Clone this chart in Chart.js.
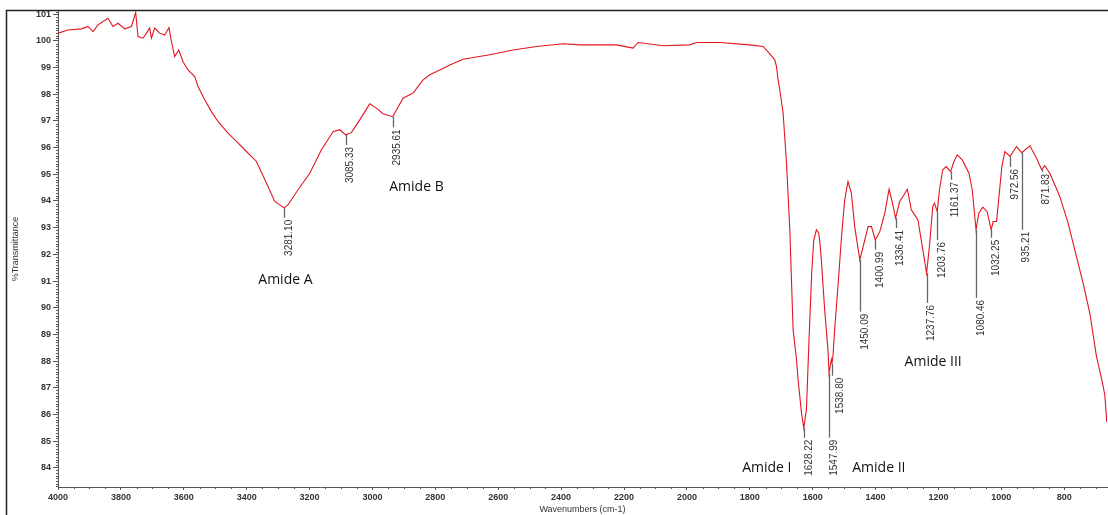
<!DOCTYPE html>
<html>
<head>
<meta charset="utf-8">
<script src="https://cdn.jsdelivr.net/npm/chart.js@4/dist/chart.umd.min.js"></script>
<style>
  body { margin: 0; background: #fff; }
  canvas { display: block; }
</style>
</head>
<body>
<canvas id="ftirChart" width="1108" height="515"></canvas>
<script>
// spectrum (wavenumber, %T)
const wavenumbers = [
    4000, 3968.2, 3925.6, 3904.6, 3888.7, 3872.8, 3841, 3825.1, 3809.2, 3787.8,
    3766.5, 3752.9, 3745.6, 3729.6, 3708.3, 3702.9, 3692.4, 3676.5, 3660.6, 3647,
    3639.3, 3628.8, 3616.1, 3602.4, 3586.5, 3565.2, 3554.7, 3533.4, 3512.1, 3491.1,
    3459.3, 3432.6, 3406.2, 3369, 3337.2, 3310.8, 3281.1, 3268.4, 3236.6, 3199.4,
    3162.2, 3125.3, 3104, 3085.33, 3066.8, 3040.4, 3008.6, 2987.3, 2966.3, 2935.61,
    2923.7, 2902.7, 2881.4, 2870.9, 2839.1, 2817.8, 2785.9, 2754.1, 2711.8, 2626.9,
    2552.8, 2478.4, 2393.8, 2340.6, 2277, 2223.9, 2171.1, 2155.2, 2075.7, 1990.8,
    1969.5, 1895.4, 1800, 1757.7, 1736.4, 1720.5, 1715.1, 1709.9, 1704.5, 1694,
    1683.2, 1672.7, 1662.2, 1651.4, 1646.3, 1635.5, 1628.22, 1619.8, 1611, 1603.1,
    1596.8, 1588.3, 1581, 1577.8, 1572.4, 1561.9, 1551.4, 1547.99, 1540.6, 1538.8,
    1535.4, 1530, 1519.5, 1508.7, 1498.2, 1487.7, 1476.9, 1466.4, 1450.09, 1439.6,
    1423.7, 1412.9, 1400.99, 1386.6, 1370.7, 1357, 1346.2, 1336.41, 1323.5, 1313,
    1299, 1286.3, 1275.8, 1265.3, 1251.3, 1237.76, 1228.7, 1218.2, 1212.8, 1203.76,
    1196.8, 1186.3, 1175.5, 1161.37, 1150.7, 1140.2, 1124.3, 1103, 1092.5, 1080.46,
    1071.7, 1059, 1045.3, 1032.25, 1026.1, 1015.3, 1004.8, 998.3, 988.8, 972.56,
    951.7, 935.21, 909.3, 888, 871.83, 861.8, 845.9, 814.1, 787.7, 771.8,
    740, 718.7, 697.4, 680.6, 671, 664.7
];
const transmittance = [
    100.29, 100.41, 100.45, 100.54, 100.35, 100.6, 100.85, 100.54, 100.66, 100.45,
    100.54, 101.07, 100.16, 100.1, 100.48, 100.1, 100.48, 100.29, 100.22, 100.5,
    99.97, 99.41, 99.66, 99.22, 98.91, 98.66, 98.29, 97.79, 97.35, 96.98,
    96.54, 96.23, 95.92, 95.48, 94.67, 93.98, 93.74, 93.86, 94.42, 95.04,
    95.92, 96.6, 96.67, 96.48, 96.56, 97.04, 97.64, 97.48, 97.27, 97.16,
    97.41, 97.85, 97.98, 98.04, 98.54, 98.73, 98.91, 99.1, 99.31, 99.48,
    99.66, 99.79, 99.89, 99.85, 99.85, 99.85, 99.73, 99.94, 99.82, 99.85,
    99.94, 99.94, 99.85, 99.79, 99.51, 99.29, 99.04, 98.54, 98.16, 97.29,
    95.42, 92.92, 89.17, 88.05, 87.3, 86.05, 85.49, 86.2, 89.0, 91.3,
    92.5, 92.92, 92.8, 92.54, 91.8, 89.92, 88.42, 87.55, 88.05, 87.9,
    88.2, 89.2, 90.8, 92.6, 94.04, 94.73, 94.29, 93.04, 91.79, 92.29,
    93.04, 93.04, 92.54, 92.85, 93.54, 94.44, 93.92, 93.36, 93.98, 94.17,
    94.44, 93.67, 93.48, 93.29, 92.29, 91.3, 92.29, 93.79, 93.92, 93.6,
    94.42, 95.17, 95.29, 95.1, 95.48, 95.73, 95.54, 95.04, 94.42, 92.92,
    93.54, 93.77, 93.6, 92.92, 93.23, 93.23, 94.5, 95.3, 95.85, 95.67,
    96.04, 95.81, 96.07, 95.6, 95.17, 95.32, 95.04, 94.17, 93.17, 92.42,
    90.92, 89.8, 88.17, 87.3, 86.74, 85.72
];

const xTicks = [4000, 3800, 3600, 3400, 3200, 3000, 2800, 2600, 2400, 2200, 2000, 1800, 1600, 1400, 1200, 1000, 800];
const yTicks = [84, 85, 86, 87, 88, 89, 90, 91, 92, 93, 94, 95, 96, 97, 98, 99, 100, 101];

// picked peaks
const peakWavenumbers = [3281.10, 3085.33, 2935.61, 1628.22, 1547.99, 1538.80, 1450.09, 1400.99, 1336.41,
    1237.76, 1203.76, 1161.37, 1080.46, 1032.25, 972.56, 935.21, 871.83];
const peakLabels = ['3281.10', '3085.33', '2935.61', '1628.22', '1547.99', '1538.80', '1450.09', '1400.99', '1336.41',
    '1237.76', '1203.76', '1161.37', '1080.46', '1032.25', '972.56', '935.21', '871.83'];

// band names
const bandNames = ['Amide A', 'Amide B', 'Amide I', 'Amide II', 'Amide III'];

// layout: where each peak marker line stops (in %T) and where band names sit
const peakLineEnd = [93.37, 96.1, 96.76, 85.13, 85.13, 87.45, 89.85, 92.17, 92.99,
    90.18, 92.54, 94.79, 90.37, 92.62, 95.28, 92.92, 95.09];
const peakTextShift = [0, 0, 0, 0, 0, 3, 0, 0, 0, 0, 0, 0, 0, 0, 0, 0, 0];
const bandPos = [[3276.7, 90.9], [2860, 94.39], [1745.8, 83.85], [1389.6, 83.85], [1216.9, 87.82]];

const tickFont = { family: '"Liberation Sans Narrow", "Liberation Sans", Arial, sans-serif', size: 9, weight: 'bold' };
const titleFont = { family: '"Liberation Sans Narrow", "Liberation Sans", Arial, sans-serif', size: 9 };

function valueAt(wn) {
    for (let i = 0; i < wavenumbers.length - 1; i++) {
        const a = wavenumbers[i], b = wavenumbers[i + 1];
        if (wn <= a && wn >= b) {
            const t = (a - wn) / (a - b);
            return transmittance[i] + t * (transmittance[i + 1] - transmittance[i]);
        }
    }
    return transmittance[transmittance.length - 1];
}

const framePlugin = {
    id: 'frame',
    beforeDraw(chart) {
        const ctx = chart.ctx;
        ctx.save();
        ctx.strokeStyle = '#222';
        ctx.lineWidth = 1.5;
        ctx.beginPath();
        ctx.moveTo(6.5, 515);
        ctx.lineTo(6.5, 10.5);
        ctx.lineTo(1108, 10.5);
        ctx.stroke();
        ctx.restore();
    }
};

const minorTicksPlugin = {
    id: 'minorTicks',
    afterDraw(chart) {
        const ctx = chart.ctx;
        const xs = chart.scales.x, ys = chart.scales.y;
        const area = chart.chartArea;
        ctx.save();
        ctx.strokeStyle = '#555';
        ctx.lineWidth = 1;
        ctx.beginPath();
        for (let v = 3950; v > xs.min; v -= 50) {
            if (v % 200 === 0) continue;
            const px = Math.round(xs.getPixelForValue(v)) + 0.5;
            ctx.moveTo(px, area.bottom);
            ctx.lineTo(px, area.bottom + 2);
        }
        for (let k = Math.ceil(ys.min * 10); k <= Math.floor(ys.max * 10); k++) {
            if (k % 10 === 0) continue;
            const py = Math.round(ys.getPixelForValue(k / 10)) + 0.5;
            ctx.moveTo(area.left - 2, py);
            ctx.lineTo(area.left, py);
        }
        ctx.stroke();
        ctx.restore();
    }
};

const peakPlugin = {
    id: 'peaks',
    afterDatasetsDraw(chart) {
        const ctx = chart.ctx;
        const xs = chart.scales.x, ys = chart.scales.y;
        ctx.save();
        ctx.strokeStyle = '#666';
        ctx.lineWidth = 1.3;
        peakWavenumbers.forEach((wn, i) => {
            const px = Math.round(xs.getPixelForValue(wn)) + 0.5;
            const top = ys.getPixelForValue(valueAt(wn));
            const bottom = ys.getPixelForValue(peakLineEnd[i]);
            ctx.beginPath();
            ctx.moveTo(px, top);
            ctx.lineTo(px, bottom);
            ctx.stroke();
        });
        ctx.fillStyle = '#333';
        ctx.font = '10px "Liberation Sans", Arial, sans-serif';
        ctx.textAlign = 'right';
        ctx.textBaseline = 'top';
        peakWavenumbers.forEach((wn, i) => {
            const px = xs.getPixelForValue(wn) + peakTextShift[i];
            const bottom = ys.getPixelForValue(peakLineEnd[i]);
            ctx.save();
            ctx.translate(px, bottom + 2);
            ctx.rotate(-Math.PI / 2);
            ctx.fillText(peakLabels[i], 0, 0);
            ctx.restore();
        });
        ctx.fillStyle = '#111';
        ctx.font = '14px "Open Sans", "Noto Sans", sans-serif';
        ctx.textAlign = 'center';
        ctx.textBaseline = 'alphabetic';
        bandNames.forEach((name, i) => {
            ctx.fillText(name, xs.getPixelForValue(bandPos[i][0]), ys.getPixelForValue(bandPos[i][1]));
        });
        ctx.restore();
    }
};

const ctx = document.getElementById('ftirChart').getContext('2d');
new Chart(ctx, {
    type: 'line',
    data: {
        datasets: [{
            data: wavenumbers.map((w, i) => ({ x: w, y: transmittance[i] })),
            borderColor: '#e3151f',
            borderWidth: 1.1,
            pointRadius: 0,
            tension: 0,
            fill: false
        }]
    },
    options: {
        responsive: false,
        animation: false,
        devicePixelRatio: 1,
        layout: { padding: { top: 11, right: 1, left: 0, bottom: 0 } },
        plugins: { legend: { display: false }, tooltip: { enabled: false } },
        scales: {
            x: {
                type: 'linear',
                reverse: true,
                min: 664,
                max: 4000,
                afterBuildTicks: s => { s.ticks = xTicks.map(v => ({ value: v })); },
                afterFit: s => { s.height = 28; },
                ticks: { font: tickFont, color: '#333', padding: 2, maxRotation: 0, autoSkip: false, callback: v => String(v) },
                grid: { drawOnChartArea: false, tickLength: 3, color: '#555' },
                border: { color: '#555', width: 1 },
                title: { display: true, text: 'Wavenumbers (cm-1)', font: titleFont, color: '#333', padding: { top: 0, bottom: 0 } }
            },
            y: {
                min: 83.28,
                max: 101.12,
                afterBuildTicks: s => { s.ticks = yTicks.map(v => ({ value: v })); },
                afterFit: s => { s.width = 58; },
                ticks: { font: tickFont, color: '#333', padding: 2, callback: v => String(v) },
                grid: { drawOnChartArea: false, tickLength: 5, color: '#555' },
                border: { color: '#555', width: 1 },
                title: { display: true, text: '%Transmittance', font: titleFont, color: '#333', padding: { top: 10, bottom: 0 } }
            }
        }
    },
    plugins: [framePlugin, minorTicksPlugin, peakPlugin]
});
</script>
</body>
</html>
